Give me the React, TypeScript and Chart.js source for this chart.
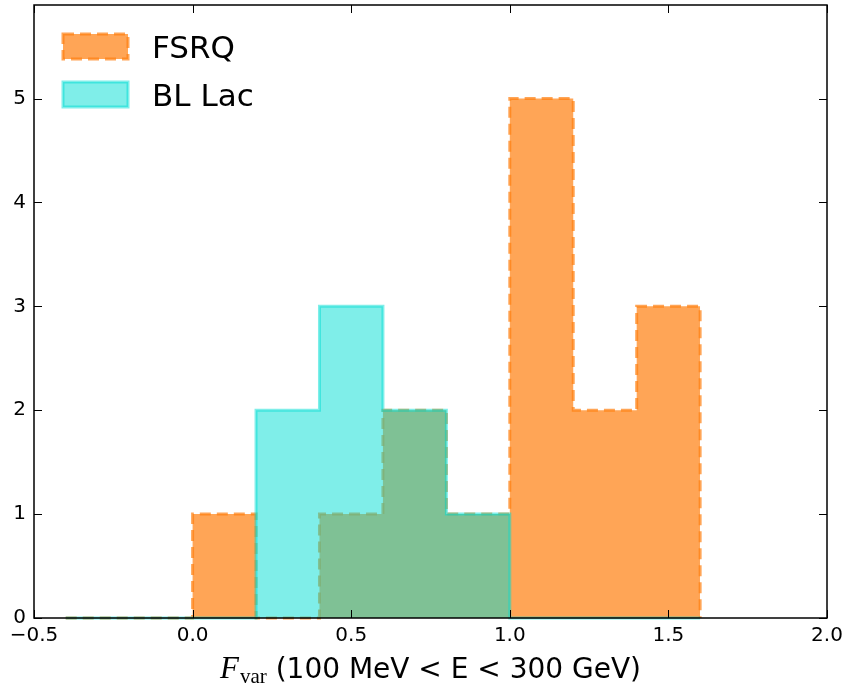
import React, { useEffect, useRef } from 'react';
import { Chart, registerables } from 'chart.js';

Chart.register(...registerables);

// ---- data ----
const binEdges = [-0.4, -0.2, 0.0, 0.2, 0.4, 0.6, 0.8, 1.0, 1.2, 1.4, 1.6];
const fsrqCounts = [0, 0, 1, 0, 1, 2, 1, 5, 2, 3];
const bllacCounts = [0, 0, 0, 2, 3, 2, 1, 0, 0, 0];
const seriesLabels = ['FSRQ', 'BL Lac'];
const xTickValues = [-0.5, 0.0, 0.5, 1.0, 1.5, 2.0];
const yTickValues = [0, 1, 2, 3, 4, 5];
const xLimits = [-0.5, 2.0];
const yLimits = [0, 5.9];
const titleMath = 'F';
const titleSub = 'var';
const titleText = ' (100 MeV < E < 300 GeV)';

// outline of a step-filled histogram: each count holds from its left edge to the next edge
function stepPoints(edges: number[], counts: number[]) {
  const pts: { x: number; y: number }[] = [{ x: edges[0], y: 0 }];
  counts.forEach((c, i) => {
    pts.push({ x: edges[i], y: c });
    pts.push({ x: edges[i + 1], y: c });
  });
  pts.push({ x: edges[edges.length - 1], y: 0 });
  return pts;
}

const SANS = "'DejaVu Sans', sans-serif";
const SERIF = "'Liberation Serif', 'DejaVu Serif', serif";

const decorPlugin = {
  id: 'decor',
  afterDraw(chart: any) {
    const { ctx, chartArea } = chart;
    const { left, right, top, bottom } = chartArea;
    const xs = chart.scales.x;
    const ys = chart.scales.y;
    ctx.save();
    // spines
    ctx.strokeStyle = '#000';
    ctx.lineWidth = 1.5;
    ctx.setLineDash([]);
    ctx.strokeRect(left, top, right - left, bottom - top);
    // inward ticks on all sides
    ctx.lineWidth = 1;
    const tl = 8;
    xs.ticks.forEach((t: any) => {
      const px = Math.round(xs.getPixelForValue(t.value)) + 0.5;
      ctx.beginPath();
      ctx.moveTo(px, bottom);
      ctx.lineTo(px, bottom - tl);
      ctx.moveTo(px, top);
      ctx.lineTo(px, top + tl);
      ctx.stroke();
    });
    ys.ticks.forEach((t: any) => {
      const py = Math.round(ys.getPixelForValue(t.value)) + 0.5;
      ctx.beginPath();
      ctx.moveTo(left, py);
      ctx.lineTo(left + tl, py);
      ctx.moveTo(right, py);
      ctx.lineTo(right - tl, py);
      ctx.stroke();
    });

    // legend inside the axes (upper left)
    const boxX = left + 29;
    const boxY0 = top + 29;
    const boxW = 65;
    const boxH = 25;
    const rowH = 48;
    chart.data.datasets.forEach((ds: any, i: number) => {
      const by = boxY0 + i * rowH;
      ctx.fillStyle = ds.backgroundColor;
      ctx.fillRect(boxX, by, boxW, boxH);
      ctx.strokeStyle = ds.borderColor;
      ctx.lineWidth = ds.borderWidth;
      ctx.setLineDash(ds.borderDash || []);
      ctx.strokeRect(boxX, by, boxW, boxH);
      ctx.setLineDash([]);
      ctx.fillStyle = '#000';
      ctx.font = `31px ${SANS}`;
      ctx.textBaseline = 'alphabetic';
      ctx.textAlign = 'left';
      ctx.fillText(ds.label, boxX + boxW + 24, by + boxH - 1);
    });

    // x-axis title with math part
    const baseY = 678;
    ctx.textBaseline = 'alphabetic';
    ctx.textAlign = 'left';
    ctx.font = `italic 31px ${SERIF}`;
    const wF = ctx.measureText(titleMath).width;
    ctx.font = `21px ${SERIF}`;
    const wSub = ctx.measureText(titleSub).width;
    ctx.font = `28px ${SANS}`;
    const wText = ctx.measureText(titleText).width;
    const total = wF + 1 + wSub + wText;
    let x = (left + right) / 2 - total / 2;
    ctx.fillStyle = '#000';
    ctx.font = `italic 31px ${SERIF}`;
    ctx.fillText(titleMath, x, baseY);
    x += wF + 1;
    ctx.font = `21px ${SERIF}`;
    ctx.fillText(titleSub, x, baseY + 5);
    x += wSub;
    ctx.font = `28px ${SANS}`;
    ctx.fillText(titleText, x, baseY);
    ctx.restore();
  },
};

export default function App() {
  const ref = useRef<HTMLCanvasElement | null>(null);
  useEffect(() => {
    if (!ref.current) return;
    const chart = new Chart(ref.current, {
      type: 'line',
      data: {
        datasets: [
          {
            label: seriesLabels[0],
            data: stepPoints(binEdges, fsrqCounts),
            fill: 'origin',
            backgroundColor: 'rgba(255,127,14,0.7)',
            borderColor: 'rgba(255,127,14,0.7)',
            borderWidth: 3,
            borderDash: [11, 6],
            pointRadius: 0,
            tension: 0,
            order: 2,
            clip: false,
          } as any,
          {
            label: seriesLabels[1],
            data: stepPoints(binEdges, bllacCounts),
            fill: 'origin',
            backgroundColor: 'rgba(0,222,212,0.5)',
            borderColor: 'rgba(0,222,212,0.5)',
            borderWidth: 3,
            pointRadius: 0,
            tension: 0,
            order: 1,
            clip: false,
          } as any,
        ],
      },
      options: {
        animation: false,
        responsive: false,
        maintainAspectRatio: false,
        layout: { padding: { left: 0, top: 5, right: 15, bottom: 0 } },
        plugins: {
          legend: { display: false },
          tooltip: { enabled: false },
          title: { display: false },
        },
        scales: {
          x: {
            type: 'linear',
            min: xLimits[0],
            max: xLimits[1],
            grid: { display: false, drawTicks: false },
            border: { display: false },
            afterBuildTicks: (s: any) => {
              s.ticks = xTickValues.map((v) => ({ value: v }));
            },
            afterFit: (s: any) => {
              s.height = 69;
              s.paddingLeft = 0;
              s.paddingRight = 0;
            },
            ticks: {
              autoSkip: false,
              maxRotation: 0,
              padding: 6,
              color: '#000',
              font: { family: SANS, size: 20 },
              callback: (v: any) => {
                const n = Number(v);
                return (n < 0 ? '\u2212' : '') + Math.abs(n).toFixed(1);
              },
            },
          },
          y: {
            type: 'linear',
            min: yLimits[0],
            max: yLimits[1],
            grid: { display: false, drawTicks: false },
            border: { display: false },
            afterBuildTicks: (s: any) => {
              s.ticks = yTickValues.map((v) => ({ value: v }));
            },
            afterFit: (s: any) => {
              s.width = 34;
              s.paddingTop = 0;
              s.paddingBottom = 0;
            },
            ticks: {
              autoSkip: false,
              padding: 8,
              color: '#000',
              font: { family: SANS, size: 20 },
              callback: (v: any) => String(Math.round(Number(v))),
            },
          },
        },
      },
      plugins: [decorPlugin],
    } as any);
    return () => chart.destroy();
  }, []);
  return (
    <div style={{ position: 'absolute', left: 0, top: 0, width: 842, height: 687, background: '#fff' }}>
      <canvas ref={ref} width={842} height={687} style={{ display: 'block' }} />
    </div>
  );
}
